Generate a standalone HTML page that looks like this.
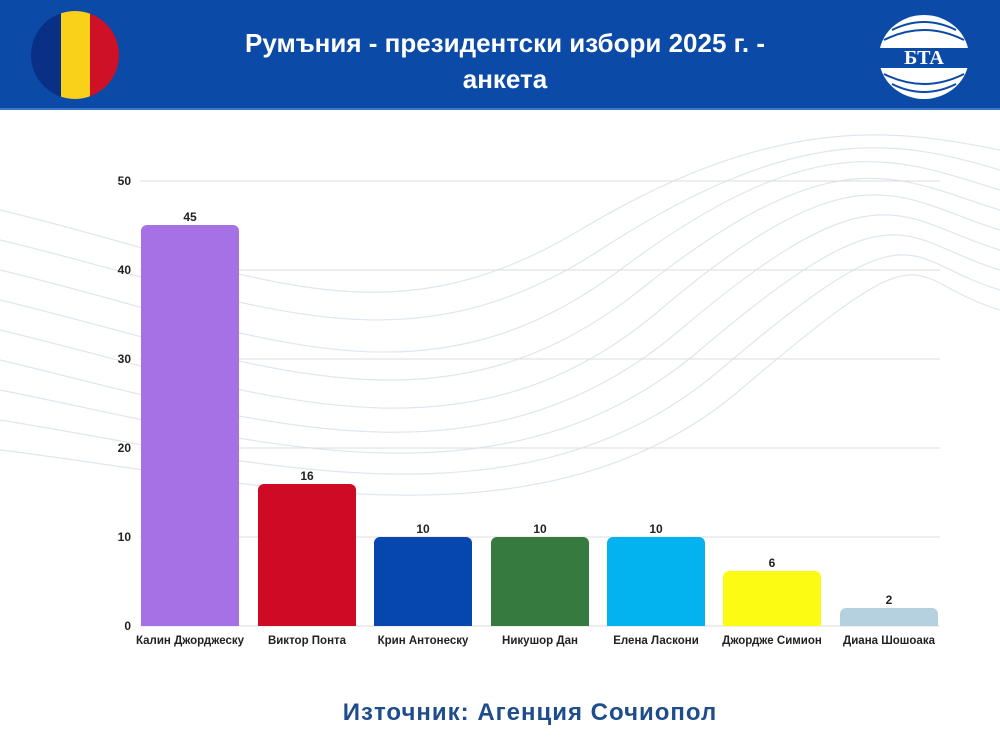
<!DOCTYPE html>
<html><head><meta charset="utf-8"><style>
body{margin:0;width:1000px;height:750px;background:#fff;font-family:"Liberation Sans","DejaVu Sans",sans-serif;overflow:hidden;position:relative}
</style></head><body>
<svg width="1000" height="750" style="position:absolute;left:0;top:0">
<rect x="0" y="0" width="1000" height="109" fill="#0b4aa6"/>
<rect x="0" y="108" width="1000" height="2" fill="#3b78c9"/>
<defs><clipPath id="fc"><circle cx="75" cy="55" r="44"/></clipPath></defs>
<g clip-path="url(#fc)">
<rect x="31" y="10" width="30" height="90" fill="#0a2f86"/>
<rect x="61" y="10" width="29" height="90" fill="#f9d01a"/>
<rect x="90" y="10" width="30" height="90" fill="#ce1126"/>
</g>
<g>
<ellipse cx="924" cy="57" rx="45" ry="42" fill="#fff"/>
<path d="M884 40 Q924 20 964 40 M884 74 Q924 94 964 74 M892 30 Q924 14 956 30 M892 84 Q924 100 956 84" stroke="#0b4aa6" stroke-width="2" fill="none"/>
<rect x="879" y="48" width="90" height="20" fill="#0b4aa6"/>
<text x="924" y="64" text-anchor="middle" font-family="Liberation Serif" font-weight="bold" font-size="20" fill="#fff">БТА</text>
</g>
<text x="505" y="52" text-anchor="middle" font-size="26" font-weight="bold" fill="#fff">Румъния - президентски избори 2025 г. -</text>
<text x="505" y="88" text-anchor="middle" font-size="26" font-weight="bold" fill="#fff">анкета</text>
<g stroke="#dfe6ee" stroke-width="1.2" fill="none">
<path d="M0 240 C250 300 400 380 600 250 S900 140 1000 170"/>
<path d="M0 270 C250 330 420 420 620 270 S900 160 1000 190"/>
<path d="M0 300 C250 360 440 450 640 290 S900 180 1000 210"/>
<path d="M0 330 C250 390 460 480 660 310 S900 200 1000 230"/>
<path d="M0 360 C250 420 480 500 680 330 S900 220 1000 250"/>
<path d="M0 390 C250 440 500 520 700 350 S900 240 1000 270"/>
<path d="M0 420 C250 460 520 540 720 370 S900 260 1000 290"/>
<path d="M0 450 C250 480 540 560 740 390 S900 280 1000 310"/>
<path d="M0 210 C250 270 380 350 580 230 S900 130 1000 150"/>
</g>
<g stroke="#dcdcdc" stroke-width="1">
<line x1="140" y1="181" x2="940" y2="181"/>
<line x1="140" y1="270" x2="940" y2="270"/>
<line x1="140" y1="359" x2="940" y2="359"/>
<line x1="140" y1="448" x2="940" y2="448"/>
<line x1="140" y1="537" x2="940" y2="537"/>
<line x1="140" y1="626" x2="940" y2="626"/>
</g>
<g font-size="12" fill="#222" text-anchor="end" font-weight="bold">
<text x="131" y="185">50</text><text x="131" y="274">40</text><text x="131" y="363">30</text><text x="131" y="452">20</text><text x="131" y="541">10</text><text x="131" y="630">0</text>
</g>
<g>
<path d="M141 626V231a6 6 0 0 1 6-6h86a6 6 0 0 1 6 6V626Z" fill="#a771e6"/>
<path d="M258 626V490a6 6 0 0 1 6-6h86a6 6 0 0 1 6 6V626Z" fill="#cf0a24"/>
<path d="M374 626V543a6 6 0 0 1 6-6h86a6 6 0 0 1 6 6V626Z" fill="#0547ae"/>
<path d="M491 626V543a6 6 0 0 1 6-6h86a6 6 0 0 1 6 6V626Z" fill="#367a40"/>
<path d="M607 626V543a6 6 0 0 1 6-6h86a6 6 0 0 1 6 6V626Z" fill="#03b3ef"/>
<path d="M723 626V577a6 6 0 0 1 6-6h86a6 6 0 0 1 6 6V626Z" fill="#fbfb14"/>
<path d="M840 626V614a6 6 0 0 1 6-6h86a6 6 0 0 1 6 6V626Z" fill="#b5d1df"/>
</g>
<g font-size="12" font-weight="bold" fill="#222" text-anchor="middle">
<text x="190" y="221">45</text><text x="307" y="480">16</text><text x="423" y="533">10</text><text x="540" y="533">10</text><text x="656" y="533">10</text><text x="772" y="567">6</text><text x="889" y="604">2</text>
<g font-size="11.5">
<text x="190" y="644">Калин Джорджеску</text><text x="307" y="644">Виктор Понта</text><text x="423" y="644">Крин Антонеску</text><text x="540" y="644">Никушор Дан</text><text x="656" y="644">Елена Ласкони</text><text x="772" y="644">Джордже Симион</text><text x="889" y="644">Диана Шошоака</text>
</g>
</g>
<text x="530" y="720" text-anchor="middle" font-size="24" font-weight="bold" fill="#1f4d8c" letter-spacing="1">Източник: Агенция Сочиопол</text>
</svg>
</body></html>
